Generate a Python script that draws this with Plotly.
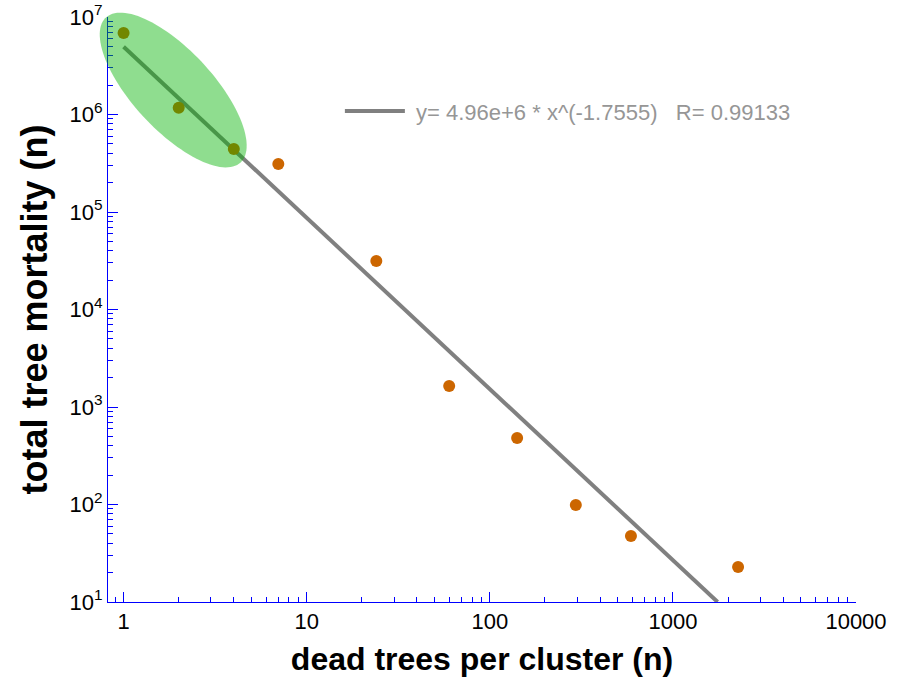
import numpy as np
import plotly.graph_objects as go

# data
cluster_size = [1, 2, 4, 7, 24, 60, 141, 295, 590, 2270]
mortality = [6.85e6, 1.17e6, 4.43e5, 3.1e5, 3.14e4, 1.64e3, 481, 99, 47.5, 22.9]

fit_x = [1, 1755]
fit_y = [4.96e6, 10]
fit_label = "\u00a0y= 4.96e+6 * x^(-1.7555)\u00a0\u00a0\u00a0R= 0.99133"

x_tickvals = [1, 10, 100, 1000, 10000]
x_ticktext = ["1", "10", "100", "1000", "10000"]
y_tickvals = [1e1, 1e2, 1e3, 1e4, 1e5, 1e6, 1e7]
y_ticktext = ["10<sup>%d</sup>" % e for e in range(1, 8)]

x_minor = [m * 10 ** d for d in range(-1, 4) for m in range(2, 10) if 0.82 < m * 10 ** d < 10000]
y_minor = [m * 10 ** d for d in range(1, 7) for m in range(2, 10)]

XMIN, XMAX = np.log10(0.822), 4.0
YMIN, YMAX = 1.0, 7.0

# highlight ellipse (decoration, built in log space, drawn in paper coords so it is not clipped)
t = np.linspace(0, 2 * np.pi, 120)
cx, cy = 0.271, 6.251
ax_, ay_ = 0.368, -0.743
bx_, by_ = -0.160, -0.279
lx = cx + ax_ * np.cos(t) + bx_ * np.sin(t)
ly = cy + ay_ * np.cos(t) + by_ * np.sin(t)
px = (lx - XMIN) / (XMAX - XMIN)
py = (ly - YMIN) / (YMAX - YMIN)
path = "M" + " L".join("%.5f,%.5f" % (a, b) for a, b in zip(px, py)) + " Z"

fig = go.Figure()
fig.add_trace(go.Scatter(x=fit_x, y=fit_y, mode="lines", name=fit_label,
                         line=dict(color="rgb(128,128,128)", width=4)))
fig.add_trace(go.Scatter(x=cluster_size, y=mortality, mode="markers", showlegend=False,
                         marker=dict(color="#CC6600", size=12)))
fig.add_shape(type="path", path=path, xref="paper", yref="paper", layer="above",
              fillcolor="rgba(0,177,0,0.44)", line=dict(width=0))

axis_common = dict(
    type="log", showgrid=False, zeroline=False, showline=True, linecolor="blue", linewidth=1,
    ticks="inside", tickcolor="blue", ticklen=10, tickwidth=1, mirror=False, automargin=False,
    tickfont=dict(family="Arial, Liberation Sans", size=22, color="black"),
)

fig.update_xaxes(**axis_common, range=[XMIN, XMAX], tickmode="array",
                 tickvals=x_tickvals, ticktext=x_ticktext,
                 minor=dict(ticks="inside", tickvals=x_minor, ticklen=5, tickcolor="blue", showgrid=False),
                 title=dict(text="<b>dead trees per cluster (n)</b>", standoff=14,
                            font=dict(family="Arial, Liberation Sans", size=32, color="black")))
fig.update_yaxes(**axis_common, range=[YMIN, YMAX], tickmode="array",
                 tickvals=y_tickvals, ticktext=y_ticktext,
                 minor=dict(ticks="inside", tickvals=y_minor, ticklen=5, tickcolor="blue", showgrid=False),
                 title=dict(text="<b>total tree mortality (n)</b>", standoff=10,
                            font=dict(family="Arial, Liberation Sans", size=36, color="black")))

fig.update_layout(
    width=906, height=683,
    margin=dict(l=108, r=50, t=17, b=81),
    plot_bgcolor="white", paper_bgcolor="white",
    showlegend=True,
    legend=dict(x=0.31, y=0.839, xanchor="left", yanchor="middle", bgcolor="rgba(0,0,0,0)",
                font=dict(family="Arial, Liberation Sans", size=22, color="rgb(150,150,150)"),
                itemwidth=60),
)

fig.write_html("out.html", config={"displayModeBar": False},
               post_script="document.body.style.margin='0px';document.body.style.overflow='hidden';")
